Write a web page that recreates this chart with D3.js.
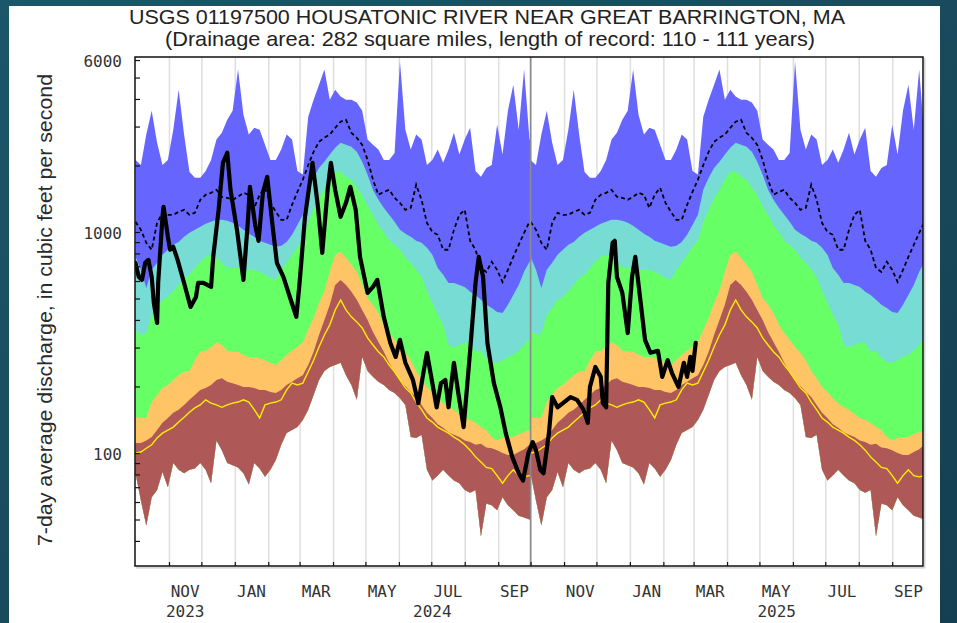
<!DOCTYPE html>
<html><head><meta charset="utf-8">
<script src="https://cdn.jsdelivr.net/npm/d3@7"></script>
<style>
html,body{margin:0;padding:0;width:957px;height:623px;overflow:hidden;background:#1a4d60;}
svg{display:block}
</style></head><body>
<svg id="chart" width="957" height="623"></svg>
<script>
// ---------------- DATA ----------------
const titleText = "USGS 01197500 HOUSATONIC RIVER NEAR GREAT BARRINGTON, MA";
const subtitleText = "(Drainage area: 282 square miles, length of record: 110 - 111 years)";
const yAxisTitle = "7-day average discharge, in cubic feet per second";
const xDomain = ["2023-10-01", "2025-09-30"];
const waterYearStarts = ["2023-10-01", "2024-10-01"];
const waterYearBoundary = "2024-10-01";
const statStepDays = 5; // day-of-water-year statistics, one value every 5 days from Oct 1

const statMax = [2120,2010,2760,3540,2534,2010,2120,2900,4400,2760,
 1870,1760,1760,1890,2120,2620,2810,3220,3540,5430,
 3390,2760,2960,2900,2480,2120,2120,2360,2760,2620,
 1890,1820,3320,3970,4640,5430,3970,4400,4100,3970,
 3970,3850,3540,2620,2480,2360,2120,2120,2280,5900,
 2900,2360,2760,2620,2010,2120,2360,2060,2360,2810,
 2240,2620,2960,1890,1780,1950,2010,3060,2240,3540,
 4640,2900,5430,2620];
const statP90 = [772,674,558,674,725,788,831,875,902,951,
 991,1023,1055,1089,1112,1135,1135,1123,1100,1066,
 1023,981,951,912,893,875,857,866,902,971,
 1077,1196,1552,1759,1950,2079,2240,2405,2534,2480,
 2430,2307,2079,1815,1552,1398,1286,1196,1112,1023,
 981,951,912,893,848,788,688,640,588,588,
 576,564,536,519,493,468,453,435,430,468,
 519,576,660,733];
const statP75 = [361,342,349,422,453,493,508,541,576,620,
 640,688,733,772,788,764,725,695,688,688,
 674,674,674,660,640,620,607,674,725,788,
 857,912,1112,1260,1428,1552,1723,1872,1872,1777,
 1723,1585,1474,1300,1196,1077,1000,912,875,831,
 764,725,674,627,541,478,422,380,308,302,
 308,315,315,287,290,269,258,256,263,272,
 278,290,308,332];
const statP25 = [145,144,144,170,183,197,203,214,225,233,
 235,263,287,290,302,315,308,290,287,287,
 278,272,272,269,263,256,250,263,278,290,
 302,318,361,408,478,541,660,788,813,764,
 710,660,576,503,468,430,380,349,325,302,
 284,263,235,218,199,189,177,168,161,157,
 150,144,141,137,131,127,118,114,117,118,
 118,122,124,127];
const statP10 = [111,111,114,118,127,137,144,152,157,165,
 174,183,193,197,203,214,218,210,207,203,
 199,199,197,193,193,189,187,193,203,210,
 218,225,250,287,342,400,468,576,607,576,
 536,493,444,400,353,318,287,256,233,214,
 201,189,179,165,152,144,135,130,124,121,
 118,114,112,109,110,106,105,103,100,98,
 98,101,104,109];
const statMin = [81,61,47,63,68,82,70,90,84,81,
 84,85,90,84,73,114,103,90,88,86,
 81,72,90,85,78,84,93,109,123,127,
 131,141,157,183,214,235,245,250,256,225,
 203,174,272,235,221,210,203,193,187,177,
 165,118,117,121,84,75,79,84,79,75,
 73,68,66,68,42,59,58,55,63,58,
 55,52,51,50];
const statYellow = [100,101,105,109,117,123,127,131,138,145,
 153,160,165,174,168,165,161,165,168,170,
 174,170,157,144,165,168,170,174,193,207,
 203,207,233,263,302,342,380,444,493,444,
 413,392,368,332,308,287,272,250,233,214,
 197,187,170,157,144,138,131,127,123,118,
 114,109,103,96,91,86,85,79,73,79,
 84,79,78,79];
const statMean = [1112,1023,893,831,1100,1221,1196,1196,1234,1260,
 1196,1221,1398,1474,1504,1552,1443,1428,1398,1443,
 1504,1474,1286,1474,1585,1355,1234,1135,1135,1327,
 1520,1723,2010,2307,2560,2670,2760,2960,3155,3220,
 2810,2670,2480,2120,1723,1474,1520,1552,1428,1355,
 1260,1286,1636,1398,1100,1000,971,831,831,1023,
 1196,1260,912,831,688,660,733,674,594,674,
 772,875,991,1112];

const observed = [
 ["2023-10-01",725],["2023-10-04",627],["2023-10-07",607],["2023-10-10",725],["2023-10-13",748],
 ["2023-10-16",627],["2023-10-18",478],["2023-10-21",388],["2023-10-22",588],["2023-10-26",1171],
 ["2023-10-27",1300],["2023-10-31",951],["2023-11-02",831],["2023-11-05",857],["2023-11-09",748],
 ["2023-11-15",588],["2023-11-21",458],["2023-11-26",508],["2023-11-28",588],["2023-12-03",588],
 ["2023-12-10",564],["2023-12-12",772],["2023-12-17",1260],["2023-12-21",2057],["2023-12-25",2283],
 ["2023-12-28",1552],["2024-01-03",1023],["2024-01-09",607],["2024-01-13",1100],["2024-01-15",1601],
 ["2024-01-20",1066],["2024-01-23",912],["2024-01-27",1504],["2024-01-31",1777],["2024-02-05",1066],
 ["2024-02-09",725],["2024-02-15",627],["2024-02-21",508],["2024-02-27",413],["2024-03-01",588],
 ["2024-03-06",1171],["2024-03-13",2057],["2024-03-18",1300],["2024-03-22",805],["2024-03-27",1552],
 ["2024-03-30",2057],["2024-04-03",1552],["2024-04-08",1171],["2024-04-13",1355],["2024-04-17",1601],
 ["2024-04-22",1260],["2024-04-26",772],["2024-05-03",530],["2024-05-08",564],["2024-05-12",607],
 ["2024-05-18",413],["2024-05-24",315],["2024-05-29",272],["2024-06-02",325],["2024-06-07",256],
 ["2024-06-14",214],["2024-06-19",168],["2024-06-24",235],["2024-06-27",284],["2024-07-02",207],
 ["2024-07-06",161],["2024-07-10",207],["2024-07-14",214],["2024-07-17",161],["2024-07-22",256],
 ["2024-07-26",187],["2024-07-31",131],["2024-08-06",290],["2024-08-11",588],["2024-08-14",772],
 ["2024-08-18",627],["2024-08-22",315],["2024-08-28",207],["2024-09-03",161],["2024-09-08",123],
 ["2024-09-14",96],["2024-09-20",81],["2024-09-24",75],["2024-09-29",100],["2024-10-03",112],
 ["2024-10-06",103],["2024-10-10",84],["2024-10-13",81],["2024-10-18",123],["2024-10-21",179],
 ["2024-10-26",161],["2024-10-31",168],["2024-11-07",179],["2024-11-13",174],["2024-11-19",157],
 ["2024-11-23",137],["2024-11-25",199],["2024-11-30",245],["2024-12-05",221],["2024-12-07",168],
 ["2024-12-10",161],["2024-12-12",588],["2024-12-16",893],["2024-12-18",912],["2024-12-20",627],
 ["2024-12-25",530],["2024-12-30",349],["2025-01-03",627],["2025-01-06",772],["2025-01-11",478],
 ["2025-01-15",325],["2025-01-20",284],["2025-01-27",290],["2025-01-31",221],["2025-02-05",263],
 ["2025-02-09",230],["2025-02-15",199],["2025-02-20",256],["2025-02-23",221],["2025-02-26",272],
 ["2025-02-28",235],["2025-03-03",315]
];

const yTickValues = [40,50,60,70,80,90,100,200,300,400,500,600,700,800,900,1000,2000,3000,4000,5000,6000];
const yTickLabels = [100, 1000, 6000];
const monthNames = ["JAN","FEB","MAR","APR","MAY","JUN","JUL","AUG","SEP","OCT","NOV","DEC"];
const labelledMonths = ["NOV","JAN","MAR","MAY","JUL","SEP"];
const yearLabels = [2023, 2024, 2025];

// ---------------- CHART ----------------
const W = 957, H = 623;
const P = {left:135, right:923, top:57, bottom:566};
const parse = d3.timeParse("%Y-%m-%d");
const svg = d3.select("#chart");
const defs = svg.append("defs");

const grad = defs.append("linearGradient").attr("id","bg").attr("x1","0").attr("y1","0").attr("x2","1").attr("y2","1");
grad.append("stop").attr("offset","0").attr("stop-color","#1c5669");
grad.append("stop").attr("offset","1").attr("stop-color","#143f50");
svg.append("rect").attr("width",W).attr("height",H).attr("fill","url(#bg)");
svg.append("rect").attr("x",9).attr("y",6).attr("width",931).attr("height",H-6).attr("fill","#ffffff");

defs.append("clipPath").attr("id","clip").append("rect")
  .attr("x",P.left).attr("y",P.top).attr("width",P.right-P.left).attr("height",P.bottom-P.top);

const x = d3.scaleTime().domain(xDomain.map(parse)).range([135.5, 923.5]);
const y = d3.scaleLog().domain([30.8, 6193]).range([P.bottom, P.top]);

const monthStarts = d3.timeMonth.range(d3.timeMonth.offset(parse(xDomain[0]),1), x.domain()[1]);

// gridlines
const grid = svg.append("g").attr("transform",`translate(0,${P.bottom})`)
  .call(d3.axisBottom(x).tickValues(monthStarts).tickSize(-(P.bottom-P.top)).tickFormat(""));
grid.select(".domain").remove();
grid.selectAll("line").attr("stroke","#dedede").attr("stroke-width",1.5);

const plotG = svg.append("g").attr("clip-path","url(#clip)");

const ys = waterYearStarts.map(parse);
function yearPoints(values, yi){
  const base = ys[yi];
  const pts = values.map((v,i)=>({d:d3.timeDay.offset(base, statStepDays*i), v, lo: statMin[i]}));
  const next = yi+1 < ys.length ? ys[yi+1] : d3.timeDay.offset(base, 366);
  pts.push({d:next, v:values[values.length-1], lo: statMin[statMin.length-1]});
  return pts;
}
const bands = [[statMax,"#6666ff"],[statP90,"#77ddd4"],[statP75,"#66ff66"],[statP25,"#ffc466"],[statP10,"#af5858"]];
const area = d3.area().x(p=>x(p.d)).y0(p=>y(p.lo)).y1(p=>y(p.v));
ys.forEach((_,yi)=>{
  bands.forEach(([vals,col])=>{
    plotG.append("path").datum(yearPoints(vals,yi)).attr("d",area).attr("fill",col).attr("stroke","none");
  });
});

const linLine = d3.line().x(p=>x(p.d)).y(p=>y(p.v));
// yellow line
ys.forEach((_,yi)=>{
  plotG.append("path").datum(yearPoints(statYellow,yi)).attr("d",linLine)
    .attr("fill","none").attr("stroke","#ffee00").attr("stroke-width",1.4);
});
// mean dashed line
ys.forEach((_,yi)=>{
  plotG.append("path").datum(yearPoints(statMean,yi)).attr("d",linLine)
    .attr("fill","none").attr("stroke","#000").attr("stroke-width",1.8).attr("stroke-dasharray","4,3");
});

// water year boundary
const wb = x(parse(waterYearBoundary));
plotG.append("line").attr("x1",wb).attr("x2",wb).attr("y1",P.top).attr("y2",P.bottom)
  .attr("stroke","#8a8a8a").attr("stroke-width",1.6);

// observed
const obs = observed.map(([d,v])=>({d:parse(d), v}));
plotG.append("path").datum(obs).attr("d",linLine).attr("fill","none")
  .attr("stroke","#000").attr("stroke-width",4.2).attr("stroke-linejoin","round").attr("stroke-linecap","round");

// frame
svg.append("line").attr("x1",P.right+1.8).attr("x2",P.right+1.8).attr("y1",P.top+1).attr("y2",P.bottom+1.8).attr("stroke","#c8c8c8").attr("stroke-width",1.2);
svg.append("line").attr("x1",P.left+1).attr("x2",P.right+1.8).attr("y1",P.bottom+1.8).attr("y2",P.bottom+1.8).attr("stroke","#c8c8c8").attr("stroke-width",1.2);
svg.append("rect").attr("x",P.left).attr("y",P.top).attr("width",P.right-P.left).attr("height",P.bottom-P.top)
  .attr("fill","none").attr("stroke","#111").attr("stroke-width",1.5);

const tickFont = "'DejaVu Sans Mono', monospace";
// y axis
const yAx = svg.append("g").attr("transform",`translate(${P.left},0)`)
  .call(d3.axisLeft(y).tickValues(yTickValues).tickSizeInner(-5).tickSizeOuter(0).tickPadding(13)
    .tickFormat(d=> yTickLabels.includes(d) ? String(d) : ""));
yAx.select(".domain").remove();
yAx.selectAll("line").attr("stroke","#111").attr("stroke-width",1.2);
yAx.selectAll("text").attr("font-family",tickFont).attr("font-size",16).attr("fill","#333").attr("dy","0.38em");

// x axis ticks
const xAx = svg.append("g").attr("transform",`translate(0,${P.bottom})`)
  .call(d3.axisBottom(x).tickValues(monthStarts).tickSizeInner(-4).tickSizeOuter(0).tickFormat(""));
xAx.select(".domain").remove();
xAx.selectAll("line").attr("stroke","#111").attr("stroke-width",1.2);

// month labels
const allMonths = d3.timeMonth.range(parse(xDomain[0]), x.domain()[1]);
allMonths.forEach(m=>{
  const name = monthNames[m.getMonth()];
  if(!labelledMonths.includes(name)) return;
  const cx = (x(m) + x(d3.timeMonth.offset(m,1)))/2;
  svg.append("text").attr("x",cx).attr("y",597).attr("text-anchor","middle")
    .attr("font-family",tickFont).attr("font-size",16).attr("fill","#333").text(name);
});
// year labels
yearLabels.forEach(yr=>{
  const a = d3.max([new Date(yr,0,1), x.domain()[0]]);
  const b = d3.min([new Date(yr+1,0,1), x.domain()[1]]);
  svg.append("text").attr("x",(x(a)+x(b))/2).attr("y",617).attr("text-anchor","middle")
    .attr("font-family",tickFont).attr("font-size",16).attr("fill","#333").text(yr);
});

// titles
const sans = "'Liberation Sans', Arial, sans-serif";
svg.append("text").attr("x",487).attr("y",24).attr("text-anchor","middle")
  .attr("font-family",sans).attr("font-size",21).attr("fill","#222")
  .attr("textLength",716).attr("lengthAdjust","spacingAndGlyphs").text(titleText);
svg.append("text").attr("x",490).attr("y",45.5).attr("text-anchor","middle")
  .attr("font-family",sans).attr("font-size",21).attr("fill","#222")
  .attr("textLength",650).attr("lengthAdjust","spacingAndGlyphs").text(subtitleText);
svg.append("text").attr("transform","translate(52,310) rotate(-90)").attr("text-anchor","middle")
  .attr("font-family",sans).attr("font-size",20).attr("fill","#2a2a2a")
  .attr("textLength",472).attr("lengthAdjust","spacingAndGlyphs").text(yAxisTitle);
</script>
</body></html>
